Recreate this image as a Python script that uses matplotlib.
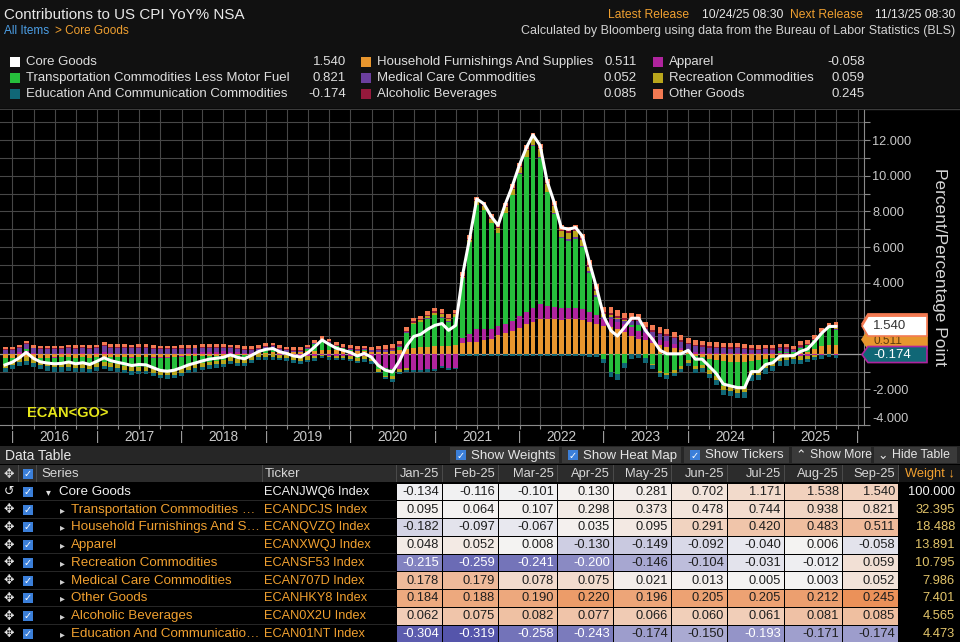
import numpy as np
import pandas as pd
import matplotlib
matplotlib.use("Agg")
import matplotlib.pyplot as plt
import matplotlib.dates as mdates
from matplotlib.patches import Rectangle, Polygon
from matplotlib.ticker import FixedLocator, FuncFormatter, NullFormatter
from matplotlib.transforms import blended_transform_factory, IdentityTransform
from matplotlib.colors import LinearSegmentedColormap

plt.rcParams['font.family'] = ['Liberation Sans', 'DejaVu Sans']

# monthly data Nov-2015 .. Sep-2025 (contributions, pct pts)
months = pd.period_range("2015-11", "2025-09", freq="M")

core_goods = [
    -0.62, -0.47, -0.22, 0.08, -0.25, -0.45, -0.52, -0.56, -0.54, -0.46, -0.56, -0.50, -0.60, -0.42,
    -0.22, -0.38, -0.48, -0.56, -0.66, -0.60, -0.62, -0.78, -0.93, -0.98, -0.92, -0.78,
    -0.62, -0.52, -0.40, -0.30, -0.25, -0.20, -0.06, -0.20, -0.28, -0.08, 0.13, 0.25,
    0.30, 0.12, 0.02, -0.12, -0.18, 0.05, 0.40, 0.78, 0.54, 0.32, 0.20, 0.08,
    -0.12, 0.02, -0.18, -0.65, -0.92, -1.02, -0.40, 0.45, 0.97, 1.10, 1.38, 1.60,
    1.70, 1.32, 1.60, 4.45, 6.55, 8.70, 8.43, 7.73, 7.22, 8.40, 9.40, 10.60,
    11.60, 12.30, 11.70, 9.70, 8.50, 7.10, 7.00, 7.10, 6.60, 5.10, 3.70, 2.10,
    1.30, 1.00, 1.50, 2.00, 2.00, 1.30, 0.80, 0.20, 0.00, 0.00, 0.00, 0.20,
    -0.30, -0.30, -0.70, -1.10, -1.70, -1.80, -1.90, -1.90, -1.00, -1.00, -0.60, -0.50,
    -0.134, -0.116, -0.101, 0.130, 0.281, 0.702, 1.171, 1.538, 1.540]

transport = [
    -0.30, -0.17, -0.02, 0.10, -0.05, -0.18, -0.24, -0.30, -0.32, -0.31, -0.36, -0.35, -0.37, -0.30,
    -0.27, -0.34, -0.41, -0.49, -0.54, -0.54, -0.57, -0.61, -0.69, -0.73, -0.73, -0.64,
    -0.53, -0.47, -0.39, -0.32, -0.29, -0.25, -0.12, -0.21, -0.24, -0.09, 0.06, 0.15,
    0.20, 0.05, 0.00, -0.10, -0.12, 0.10, 0.35, 0.55, 0.38, 0.20, 0.12, 0.05,
    -0.03, 0.05, -0.05, -0.28, -0.43, -0.39, 0.20, 0.90, 1.30, 1.38, 1.58, 1.74,
    1.59, 1.35, 1.58, 3.36, 5.21, 6.96, 6.70, 5.95, 5.25, 6.29, 7.09, 8.02,
    8.69, 9.08, 8.21, 6.37, 5.19, 3.94, 3.81, 3.85, 3.48, 2.19, 0.99, -0.31,
    -1.01, -1.13, -0.50, 0.14, 0.33, -0.22, -0.56, -0.99, -1.09, -0.93, -0.69, -0.37,
    -0.59, -0.43, -0.63, -0.92, -1.39, -1.39, -1.48, -1.47, -0.56, -0.61, -0.29, -0.22,
    0.095, 0.064, 0.107, 0.298, 0.373, 0.478, 0.744, 0.938, 0.821]

household = [
    -0.22, -0.22, -0.22, -0.20, -0.22, -0.22, -0.22, -0.20, -0.20, -0.20, -0.21, -0.20, -0.22, -0.20,
    -0.18, -0.18, -0.17, -0.17, -0.17, -0.16, -0.16, -0.17, -0.17, -0.17, -0.16, -0.15,
    -0.14, -0.13, -0.12, -0.12, -0.10, -0.10, -0.08, -0.08, -0.07, -0.05, 0.02, 0.05,
    0.08, 0.10, 0.10, 0.10, 0.12, 0.15, 0.18, 0.20, 0.22, 0.22, 0.20, 0.18,
    0.15, 0.15, 0.12, 0.12, 0.12, 0.15, 0.20, 0.28, 0.35, 0.38, 0.40, 0.42,
    0.45, 0.45, 0.48, 0.60, 0.65, 0.65, 0.75, 0.85, 1.05, 1.15, 1.30, 1.45,
    1.65, 1.80, 1.95, 1.95, 1.95, 1.90, 1.95, 1.95, 1.90, 1.80, 1.70, 1.55,
    1.50, 1.40, 1.20, 1.00, 0.85, 0.75, 0.60, 0.50, 0.40, 0.30, 0.20, 0.10,
    -0.10, -0.20, -0.30, -0.35, -0.40, -0.45, -0.45, -0.45, -0.40, -0.35, -0.30, -0.25,
    -0.182, -0.097, -0.067, 0.035, 0.095, 0.291, 0.420, 0.483, 0.511]

apparel = [
    -0.04, -0.02, 0.08, 0.15, 0.05, -0.02, -0.03, -0.02, 0.02, 0.04, 0.00, 0.03, -0.02, 0.03,
    0.08, 0.02, -0.02, -0.03, -0.04, -0.02, -0.01, -0.05, -0.08, -0.06, -0.04, -0.02,
    0.02, 0.05, 0.08, 0.10, 0.12, 0.14, 0.12, 0.10, 0.06, 0.05, 0.03, 0.02,
    -0.02, -0.05, -0.08, -0.10, -0.14, -0.15, -0.10, -0.05, -0.10, -0.12, -0.13, -0.15,
    -0.20, -0.15, -0.22, -0.60, -0.80, -0.85, -0.85, -0.78, -0.90, -0.90, -0.88, -0.85,
    -0.70, -0.80, -0.78, 0.30, 0.45, 0.75, 0.65, 0.55, 0.50, 0.50, 0.55, 0.65,
    0.70, 0.80, 0.85, 0.75, 0.70, 0.65, 0.60, 0.65, 0.60, 0.55, 0.50, 0.40,
    0.45, 0.40, 0.45, 0.50, 0.45, 0.40, 0.35, 0.30, 0.30, 0.25, 0.15, 0.12,
    0.10, 0.08, 0.05, 0.06, 0.05, 0.04, 0.06, 0.04, 0.02, 0.03, 0.06, 0.05,
    0.048, 0.052, 0.008, -0.130, -0.149, -0.092, -0.040, 0.006, -0.058]

recreation = [
    -0.22, -0.22, -0.22, -0.20, -0.22, -0.22, -0.22, -0.23, -0.23, -0.22, -0.23, -0.24, -0.24, -0.22,
    -0.22, -0.22, -0.22, -0.21, -0.22, -0.22, -0.22, -0.23, -0.24, -0.25, -0.24, -0.24,
    -0.23, -0.22, -0.22, -0.21, -0.21, -0.20, -0.20, -0.21, -0.21, -0.20, -0.19, -0.18,
    -0.17, -0.17, -0.17, -0.17, -0.17, -0.17, -0.15, -0.06, -0.10, -0.11, -0.11, -0.12,
    -0.18, -0.16, -0.16, -0.12, -0.10, -0.20, -0.17, -0.15, 0.05, 0.08, 0.10, 0.12,
    0.15, 0.14, 0.14, 0.05, 0.10, 0.20, 0.20, 0.25, 0.28, 0.30, 0.32, 0.35,
    0.40, 0.42, 0.45, 0.40, 0.38, 0.35, 0.35, 0.35, 0.30, 0.25, 0.20, 0.15,
    0.10, 0.08, 0.05, 0.03, 0.00, -0.03, -0.05, -0.08, -0.10, -0.12, -0.15, -0.15,
    -0.17, -0.18, -0.20, -0.22, -0.24, -0.25, -0.25, -0.24, -0.24, -0.23, -0.22, -0.22,
    -0.215, -0.259, -0.241, -0.200, -0.146, -0.104, -0.031, -0.012, 0.059]

medical = [
    0.24, 0.24, 0.24, 0.28, 0.25, 0.25, 0.25, 0.26, 0.26, 0.28, 0.28, 0.29, 0.28, 0.28,
    0.34, 0.32, 0.32, 0.32, 0.30, 0.31, 0.31, 0.28, 0.26, 0.25, 0.27, 0.27,
    0.26, 0.25, 0.25, 0.24, 0.22, 0.20, 0.20, 0.18, 0.17, 0.18, 0.18, 0.17,
    0.14, 0.12, 0.10, 0.08, 0.06, 0.06, 0.05, 0.05, 0.05, 0.04, 0.03, 0.03,
    0.08, 0.07, 0.07, 0.08, 0.08, 0.08, 0.06, 0.05, 0.05, 0.04, 0.04, 0.03,
    0.03, 0.02, 0.02, 0.00, 0.00, 0.00, 0.00, 0.00, 0.00, 0.00, 0.00, 0.02,
    0.03, 0.04, 0.04, 0.05, 0.06, 0.06, 0.08, 0.09, 0.10, 0.10, 0.12, 0.12,
    0.14, 0.15, 0.18, 0.20, 0.22, 0.25, 0.28, 0.30, 0.32, 0.33, 0.33, 0.33,
    0.33, 0.32, 0.30, 0.28, 0.26, 0.25, 0.24, 0.24, 0.22, 0.20, 0.20, 0.19,
    0.178, 0.179, 0.078, 0.075, 0.021, 0.013, 0.005, 0.003, 0.052]

other_goods = [
    0.12, 0.12, 0.12, 0.14, 0.13, 0.13, 0.13, 0.13, 0.13, 0.14, 0.14, 0.14, 0.14, 0.15,
    0.17, 0.16, 0.16, 0.16, 0.15, 0.16, 0.16, 0.15, 0.14, 0.14, 0.14, 0.15,
    0.15, 0.15, 0.15, 0.15, 0.15, 0.15, 0.15, 0.15, 0.14, 0.15, 0.15, 0.15,
    0.15, 0.15, 0.15, 0.15, 0.15, 0.15, 0.15, 0.16, 0.16, 0.16, 0.16, 0.16,
    0.14, 0.14, 0.14, 0.18, 0.22, 0.22, 0.18, 0.17, 0.17, 0.17, 0.18, 0.18,
    0.20, 0.19, 0.19, 0.20, 0.20, 0.20, 0.19, 0.19, 0.20, 0.20, 0.20, 0.20,
    0.22, 0.22, 0.23, 0.23, 0.24, 0.24, 0.25, 0.26, 0.27, 0.28, 0.28, 0.28,
    0.30, 0.30, 0.30, 0.30, 0.30, 0.30, 0.30, 0.30, 0.28, 0.28, 0.28, 0.27,
    0.25, 0.25, 0.24, 0.24, 0.23, 0.23, 0.22, 0.22, 0.20, 0.20, 0.19, 0.19,
    0.184, 0.188, 0.190, 0.220, 0.196, 0.205, 0.205, 0.212, 0.245]

alcoholic = [
    0.05, 0.05, 0.05, 0.06, 0.05, 0.05, 0.05, 0.05, 0.05, 0.05, 0.06, 0.06, 0.06, 0.06,
    0.06, 0.06, 0.06, 0.06, 0.06, 0.06, 0.06, 0.05, 0.05, 0.05, 0.05, 0.05,
    0.05, 0.05, 0.05, 0.05, 0.05, 0.05, 0.05, 0.05, 0.05, 0.05, 0.05, 0.05,
    0.05, 0.05, 0.05, 0.05, 0.05, 0.05, 0.05, 0.05, 0.05, 0.05, 0.05, 0.05,
    0.05, 0.05, 0.05, 0.07, 0.09, 0.09, 0.08, 0.08, 0.08, 0.08, 0.08, 0.08,
    0.08, 0.07, 0.07, 0.06, 0.06, 0.06, 0.06, 0.06, 0.06, 0.06, 0.06, 0.06,
    0.06, 0.06, 0.07, 0.07, 0.08, 0.08, 0.09, 0.10, 0.10, 0.11, 0.11, 0.11,
    0.12, 0.12, 0.12, 0.11, 0.10, 0.10, 0.10, 0.09, 0.09, 0.09, 0.08, 0.08,
    0.08, 0.08, 0.08, 0.07, 0.07, 0.07, 0.06, 0.06, 0.06, 0.06, 0.06, 0.06,
    0.062, 0.075, 0.082, 0.077, 0.066, 0.060, 0.061, 0.081, 0.085]

education = [
    -0.25, -0.25, -0.25, -0.25, -0.24, -0.24, -0.24, -0.25, -0.25, -0.24, -0.24, -0.23, -0.23, -0.22,
    -0.20, -0.20, -0.20, -0.20, -0.20, -0.19, -0.19, -0.20, -0.20, -0.21, -0.21, -0.20,
    -0.20, -0.20, -0.20, -0.19, -0.19, -0.19, -0.18, -0.18, -0.18, -0.17, -0.17, -0.16,
    -0.13, -0.13, -0.13, -0.13, -0.13, -0.14, -0.13, -0.12, -0.12, -0.12, -0.12, -0.12,
    -0.13, -0.13, -0.13, -0.10, -0.10, -0.12, -0.10, -0.10, -0.13, -0.13, -0.12, -0.12,
    -0.10, -0.10, -0.10, -0.12, -0.12, -0.12, -0.12, -0.12, -0.12, -0.10, -0.12, -0.15,
    -0.15, -0.12, -0.10, -0.12, -0.10, -0.12, -0.13, -0.15, -0.15, -0.18, -0.20, -0.20,
    -0.30, -0.32, -0.30, -0.28, -0.25, -0.25, -0.22, -0.22, -0.20, -0.20, -0.20, -0.18,
    -0.20, -0.22, -0.24, -0.26, -0.28, -0.30, -0.30, -0.30, -0.30, -0.30, -0.30, -0.30,
    -0.304, -0.319, -0.258, -0.243, -0.174, -0.150, -0.193, -0.171, -0.174]

# colours
c_core = "#ffffff"
c_trans = "#26bf3c"
c_house = "#e8962e"
c_app = "#b0249e"
c_rec = "#b9a61c"
c_med = "#6b3f9e"
c_oth = "#f37a52"
c_alc = "#96193c"
c_edu = "#106776"

# table info
table_months = ["Jan-25", "Feb-25", "Mar-25", "Apr-25", "May-25", "Jun-25", "Jul-25", "Aug-25", "Sep-25"]
table_names = ["Core Goods", "Transportation Commodities \u2026", "Household Furnishings And S\u2026",
               "Apparel", "Recreation Commodities", "Medical Care Commodities", "Other Goods",
               "Alcoholic Beverages", "Education And Communicatio\u2026"]
table_tickers = ["ECANJWQ6 Index", "ECANDCJS Index", "ECANQVZQ Index", "ECANXWQJ Index",
                 "ECANSF53 Index", "ECAN707D Index", "ECANHKY8 Index", "ECAN0X2U Index",
                 "ECAN01NT Index"]
table_weights = [100.000, 32.395, 18.488, 13.891, 10.795, 7.986, 7.401, 4.565, 4.473]
table_series = [core_goods, transport, household, apparel, recreation, medical,
                other_goods, alcoholic, education]
heat_scale = [5.0, 3.5, 1.0, 0.6, 0.33, 0.35, 0.28, 0.18, 0.35]

W, H = 960, 642
fig = plt.figure(figsize=(9.6, 6.42), dpi=100)
fig.patch.set_facecolor("#111111")


def fx(x):
    return x / W


def fy(y):
    return 1 - y / H


def rect(x, y, w, h, color, z=-1, **kw):
    r = Rectangle((fx(x), fy(y + h)), w / W, h / H, transform=fig.transFigure,
                  facecolor=color, edgecolor="none", zorder=z, **kw)
    fig.add_artist(r)
    return r


def ftext(x, y, s, **kw):
    kw.setdefault("va", "center")
    kw.setdefault("color", "#e0e0e0")
    kw.setdefault("fontsize", 9)
    return fig.text(fx(x), fy(y), s, **kw)


# backgrounds
rect(0, 108, 960, 337, "#000000")
rect(0, 445, 960, 197, "#000000")
fig.add_artist(plt.Line2D([0, 1], [fy(108.5), fy(108.5)], transform=fig.transFigure,
                          color="#3c3c3c", lw=1, zorder=0))

# header
ftext(4, 15, "Contributions to US CPI YoY% NSA", fontsize=10.9, color="#e8e8e8")
ftext(4, 31, "All Items", fontsize=8.5, color="#4c9fe6")
ftext(55, 31, "> Core Goods", fontsize=8.5, color="#f0a030")
ftext(689, 15, "Latest Release", ha="right", fontsize=8.7, color="#f0a030")
ftext(783, 15, "10/24/25 08:30", ha="right", fontsize=8.7, color="#e6e6e6")
ftext(863, 15, "Next Release", ha="right", fontsize=8.7, color="#f0a030")
ftext(955, 15, "11/13/25 08:30", ha="right", fontsize=8.7, color="#e6e6e6")
ftext(955, 31, "Calculated by Bloomberg using data from the Bureau of Labor Statistics (BLS)",
      ha="right", fontsize=9.0, color="#d2d2d2")

# legend (row-major, 3 columns)
legend_items = [
    ("Core Goods", c_core, core_goods), ("Household Furnishings And Supplies", c_house, household),
    ("Apparel", c_app, apparel),
    ("Transportation Commodities Less Motor Fuel", c_trans, transport),
    ("Medical Care Commodities", c_med, medical), ("Recreation Commodities", c_rec, recreation),
    ("Education And Communication Commodities", c_edu, education),
    ("Alcoholic Beverages", c_alc, alcoholic), ("Other Goods", c_oth, other_goods),
]
col_sq = [10, 361, 653]
col_val = [346, 637, 865]
for i, (name, col, ser) in enumerate(legend_items):
    r, c = divmod(i, 3)
    yy = 62 + r * 16
    rect(col_sq[c], yy - 5, 10, 10, col, z=2)
    ftext(col_sq[c] + 16, yy, name, fontsize=9.5, color="#dedede")
    ftext(col_val[c], yy, "%.3f" % ser[-1], ha="right", fontsize=9.5, color="#dedede")

# chart
ax = fig.add_axes([0, fy(425), 864 / W, 315 / H])
ax.set_facecolor("#000000")
x = months.to_timestamp(how="end").normalize()
n = len(x)
stack = [(household, c_house), (apparel, c_app), (transport, c_trans), (medical, c_med),
         (recreation, c_rec), (education, c_edu), (alcoholic, c_alc), (other_goods, c_oth)]
pos_base = np.zeros(n)
neg_base = np.zeros(n)
for vals, col in stack:
    v = np.array(vals, dtype=float)
    p = np.where(v > 0, v, 0.0)
    q = np.where(v < 0, v, 0.0)
    ax.bar(x, p, width=21, bottom=pos_base, color=col, linewidth=0, zorder=3)
    ax.bar(x, q, width=21, bottom=neg_base, color=col, linewidth=0, zorder=3)
    pos_base += p
    neg_base += q

ax.plot(x, core_goods, color=c_core, lw=2.2, zorder=5, solid_joinstyle="round")
ax.axhline(0, color="#9a9a9a", lw=0.9, zorder=2)

ax.set_xlim(pd.Timestamp("2015-11-08"), pd.Timestamp("2026-01-29"))
ax.set_ylim(-4, 13.7)
ax.xaxis.set_major_locator(mdates.MonthLocator(bymonth=[1, 4, 7, 10]))
ax.xaxis.set_major_formatter(NullFormatter())
ax.yaxis.tick_right()
ax.yaxis.set_major_locator(FixedLocator(np.arange(-4, 13, 2)))
ax.yaxis.set_minor_locator(FixedLocator(np.arange(-3, 14, 2)))
# labels at 0 and 2 sit behind the value tags
ax.yaxis.set_major_formatter(FuncFormatter(lambda v, p: "" if v in (0, 2) else "%.3f" % v))
ax.grid(True, which="major", axis="x", color="#474747", lw=0.8, zorder=0)
ax.grid(True, which="both", axis="y", color="#474747", lw=0.8, zorder=0)
ax.tick_params(axis="x", colors="#8a8a8a", length=3, width=0.8)
ax.tick_params(axis="y", which="both", colors="#8a8a8a", length=4, width=0.8,
               labelcolor="#c8c8c8", labelsize=9.2, pad=2)
for s in ["left", "top"]:
    ax.spines[s].set_visible(False)
for s in ["right", "bottom"]:
    ax.spines[s].set_color("#8a8a8a")
ax.yaxis.get_major_ticks()[0].label2.set_va("bottom")

# year labels and separators
tr = blended_transform_factory(ax.transData, ax.transAxes)
for yr in range(2016, 2026):
    ax.text(pd.Timestamp(f"{yr}-07-01"), -0.038, str(yr), transform=tr, ha="center",
            va="center", fontsize=9.8, color="#c8c8c8", clip_on=False)
for yr in range(2016, 2027):
    ax.text(pd.Timestamp(f"{yr}-01-01"), -0.038, "|", transform=tr, ha="center",
            va="center", fontsize=9, color="#b0b0b0", clip_on=False)

ftext(27, 413, "ECAN<GO>", fontsize=10.5, fontweight="bold", color="#e6e619", zorder=6)

ftext(940, 267, "Percent/Percentage Point", rotation=-90, ha="center", fontsize=12.5,
      color="#d6d6d6")

# value tags on the right axis
ttr = blended_transform_factory(IdentityTransform(), ax.transData)


def tag(yc, hh, fc, ec, label, tc, z, ty=None, fs=9.5):
    pts = [(862, yc), (868, yc + hh), (927, yc + hh), (927, yc - hh), (868, yc - hh)]
    ax.add_patch(Polygon(pts, closed=True, transform=ttr, facecolor=fc, edgecolor=ec,
                         lw=1.2, clip_on=False, zorder=z))
    if label:
        ax.text(873, yc if ty is None else ty, label, transform=ttr, fontsize=fs, color=tc,
                va="center", ha="left", clip_on=False, zorder=z + 0.1)


tag(1.68, 0.56, c_oth, c_oth, "", "#000", 20)
tag(0.80, 0.50, c_house, c_house, "%.3f" % household[-1], "#5a3a10", 21, ty=0.72, fs=8.5)
tag(-0.04, 0.45, c_edu, c_app, "%.3f" % education[-1], "#ffffff", 22)
tag(1.56, 0.56, "#ffffff", c_oth, "%.3f" % core_goods[-1], "#333333", 23)

# data table
rect(0, 446, 960, 18, "#262626", z=0)
ftext(5, 456, "Data Table", fontsize=10, color="#e6e6e6")
buttons = [(450, 559, "Show Weights", "chk"), (562, 681, "Show Heat Map", "chk"),
           (684, 789, "Show Tickers", "chk"), (792, 871, "Show More", "\u2303"),
           (874, 957, "Hide Table", "\u2304")]
for x0, x1, lab, kind in buttons:
    rect(x0, 447, x1 - x0, 16, "#3a3a3a", z=0)
    if kind == "chk":
        rect(x0 + 6, 450, 10, 10, "#3b7fd9", z=1)
        ftext(x0 + 11, 455.5, "\u2713", ha="center", fontsize=7, color="white",
              family=["DejaVu Sans"])
        ftext(x0 + 21, 455.5, lab, fontsize=9.5, color="#e6e6e6")
    else:
        ftext(x0 + 9, 455.5, kind, ha="center", fontsize=9, color="#e6e6e6",
              family=["DejaVu Sans"])
        ftext(x0 + 18, 455.5, lab, fontsize=8.8, color="#e6e6e6")

col_edges = [396, 442, 498, 557, 613, 671, 727, 784, 842, 898]
# header row
rect(0, 465, 898, 17, "#2c2c2c", z=0)
rect(898, 465, 62, 17, "#161616", z=0)
for xe in [18, 36, 262] + col_edges:
    rect(xe, 465, 1, 17, "#4a4a4a", z=1)
ftext(9, 474, "\u2725", ha="center", fontsize=9, color="#e0e0e0", family=["DejaVu Sans"])
rect(23, 469, 10, 10, "#3b7fd9", z=1)
ftext(28, 474, "\u2713", ha="center", fontsize=7, color="white", family=["DejaVu Sans"])
ftext(41, 474, "Series", fontsize=9.5, color="#d8d8d8")
ftext(265, 474, "Ticker", fontsize=9.5, color="#d8d8d8")
for j, mlab in enumerate(table_months):
    ftext(col_edges[j + 1] - 3, 474, mlab, ha="right", fontsize=9.3, color="#d8d8d8")
ftext(955, 474, "Weight \u2193", ha="right", fontsize=9.3, color="#f0a030")

heat = LinearSegmentedColormap.from_list("heat", ["#4646a4", "#f4f4f4", "#ea8444"])
row_h = 17.75
for i in range(len(table_names)):
    top = 483 + i * row_h
    yc = top + row_h / 2
    child = i > 0
    nc = "#f0a030" if child else "#f0f0f0"
    rect(0, top + row_h - 1, 396, 1, "#262626", z=1)
    ftext(9, yc, "\u2725" if child else "\u21ba", ha="center", fontsize=9, color="#e8e8e8",
          family=["DejaVu Sans"])
    rect(23, yc - 5, 10, 10, "#3b7fd9", z=1)
    ftext(28, yc, "\u2713", ha="center", fontsize=7, color="white", family=["DejaVu Sans"])
    if child:
        ftext(60, yc, "\u25b8", fontsize=7, color="#cfcfcf", family=["DejaVu Sans"])
        ftext(71, yc, table_names[i], fontsize=9.6, color=nc)
    else:
        ftext(46, yc, "\u25be", fontsize=7, color="#e0e0e0", family=["DejaVu Sans"])
        ftext(59, yc, table_names[i], fontsize=9.6, color=nc)
    ftext(264, yc, table_tickers[i], fontsize=9.2, color=nc)
    vals = table_series[i][-9:]
    for j, v in enumerate(vals):
        t = float(np.clip(v / heat_scale[i], -1, 1))
        x0 = col_edges[j]
        x1 = col_edges[j + 1]
        rect(x0 + 1, top + 0.5, x1 - x0 - 1, row_h - 1, heat(0.5 + 0.5 * t), z=1)
        tc = "#ffffff" if t < -0.55 else "#1e1e1e"
        ftext(x1 - 3, yc, "%.3f" % v, ha="right", fontsize=9.3, color=tc)
    wc = "#f2f2f2" if i == 0 else "#e2c46a"
    ftext(955, yc, "%.3f" % table_weights[i], ha="right", fontsize=9.3, color=wc)

fig.savefig("out.png", dpi=100, facecolor=fig.get_facecolor())
